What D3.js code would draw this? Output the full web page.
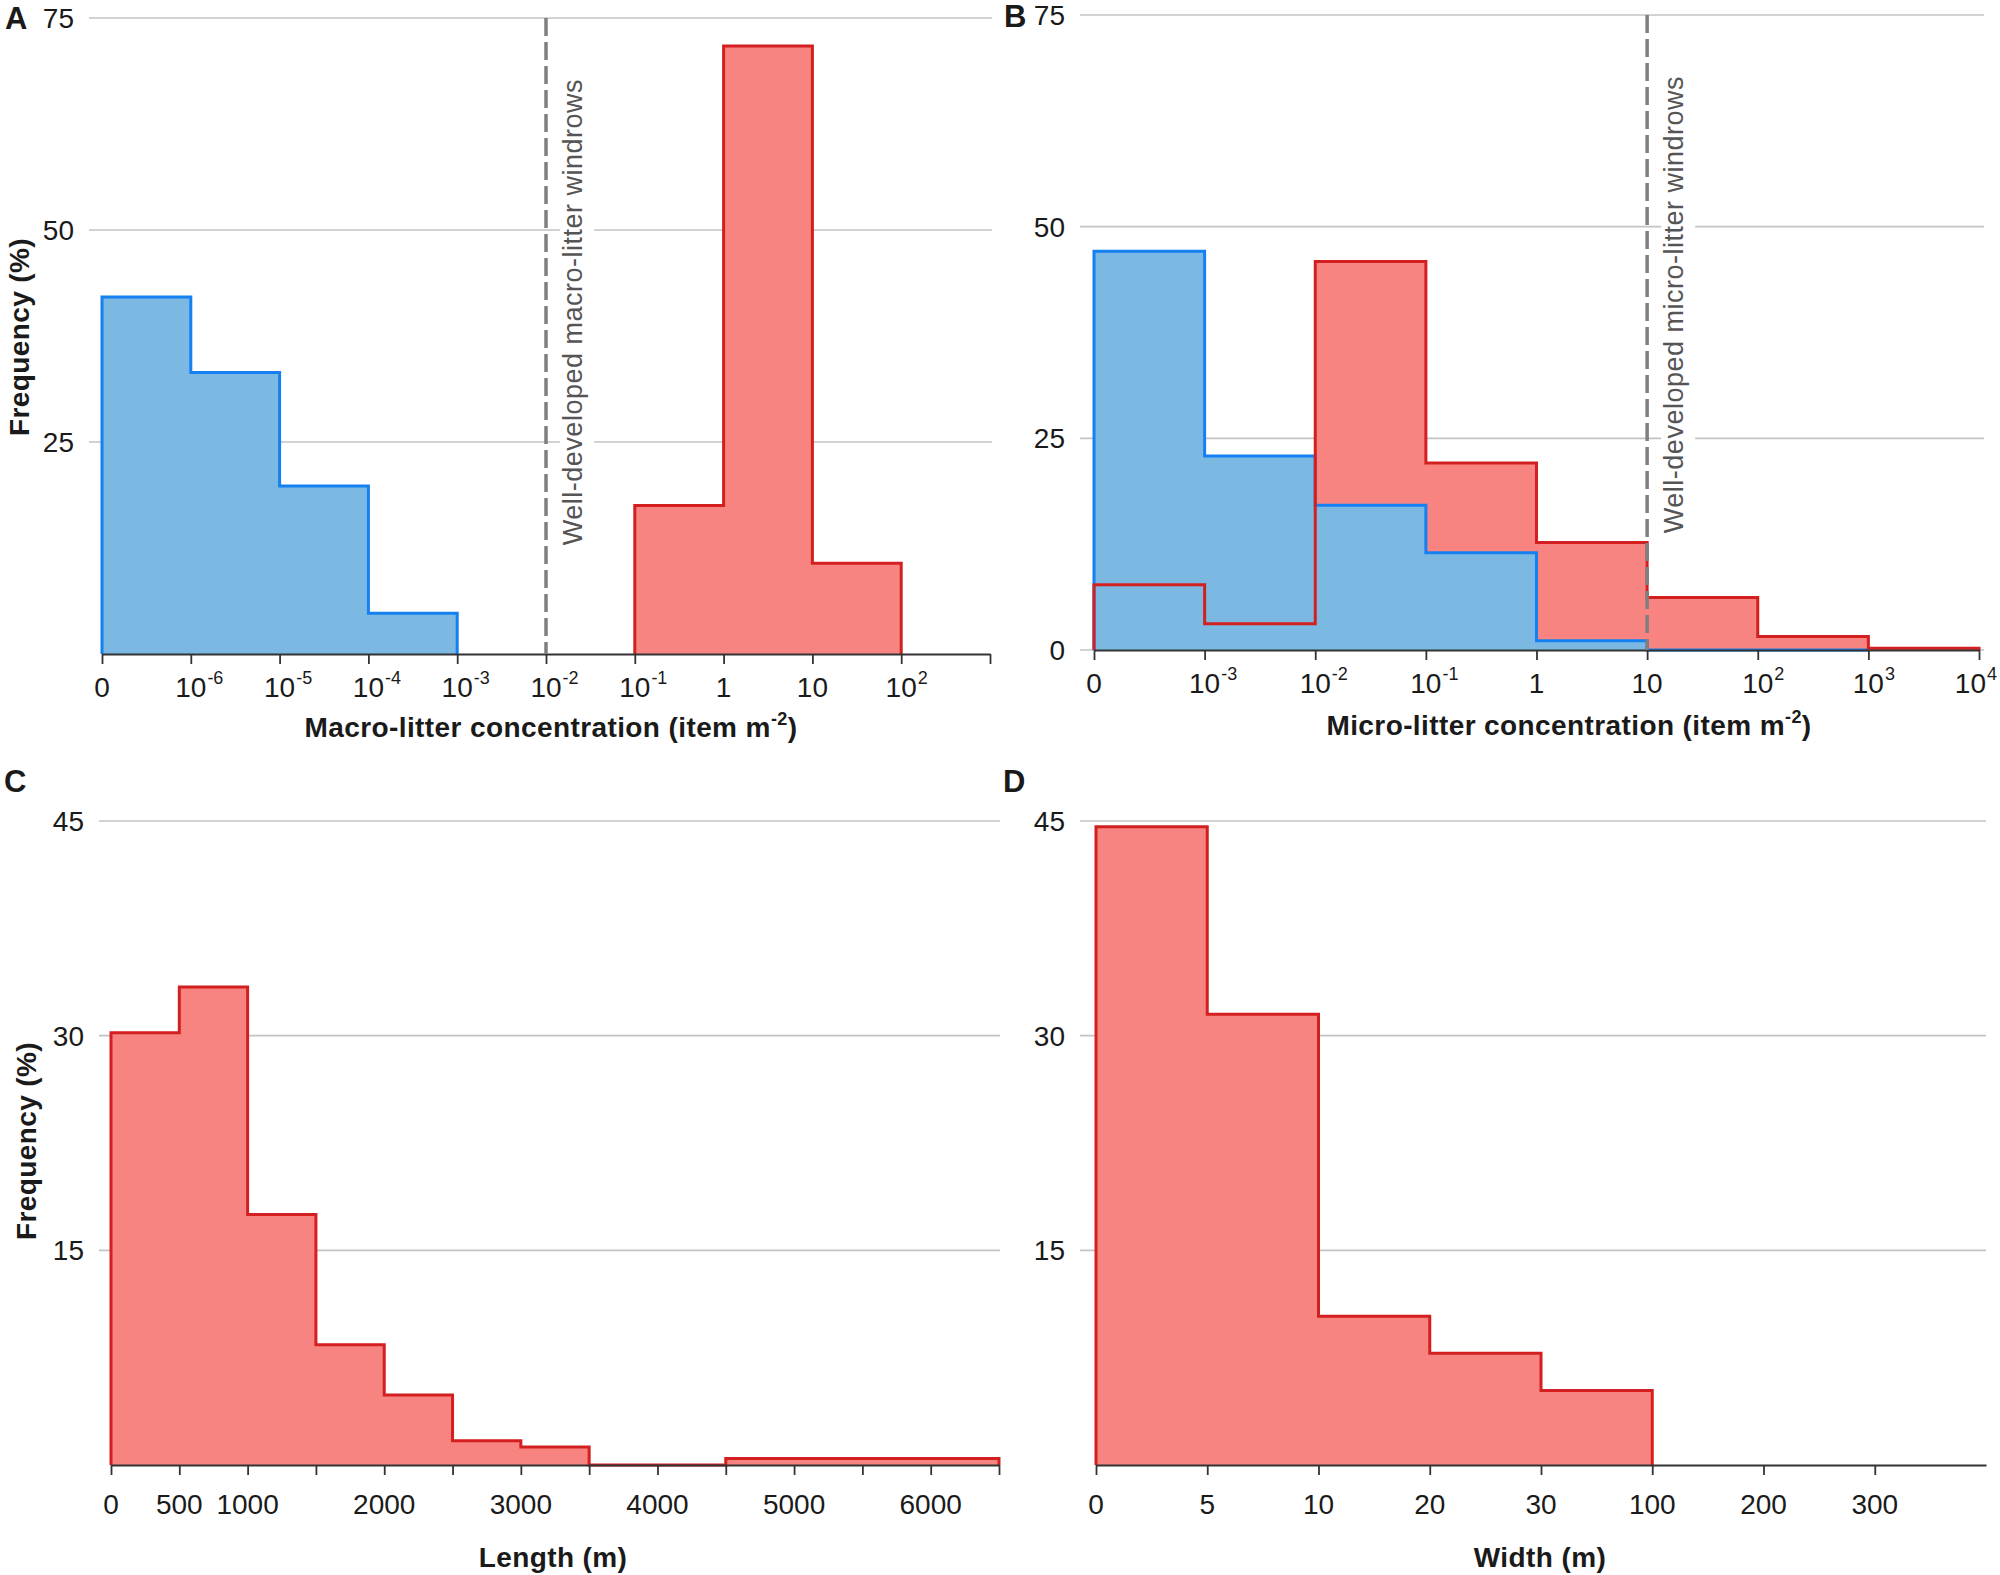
<!DOCTYPE html>
<html>
<head>
<meta charset="utf-8">
<script src="https://cdnjs.cloudflare.com/ajax/libs/d3/7.8.5/d3.min.js"></script>
<style>
  body { margin: 0; background: #fff; }
  text { font-family: "Liberation Sans", Arial, sans-serif; fill: #1a1a1a; }
</style>
</head>
<body>
<div id="chart"></div>
<script>
// ---- data ----
// A: macro-litter concentration (ordinal bins)
var macroTicks = ["0", "10^-6", "10^-5", "10^-4", "10^-3", "10^-2", "10^-1", "1", "10", "10^2", ""];
var macroBlue = [42.1, 33.2, 19.8, 4.8];
var macroBlueFrom = "0";
var macroRed = [17.5, 71.7, 10.7];
var macroRedFrom = "10^-1";
var macroWindrow = "10^-2";

// B: micro-litter concentration
var microTicks = ["0", "10^-3", "10^-2", "10^-1", "1", "10", "10^2", "10^3", "10^4"];
var microBlue = [47.1, 22.9, 17.1, 11.5, 1.1, 0, 0];
var microRed = [7.7, 3.1, 45.9, 22.1, 12.7, 6.2, 1.6, 0.2];
var microWindrow = "10";

// C: windrow length (m)
var lengthEdges = [0, 500, 1000, 1500, 2000, 2500, 3000, 3500, 4000, 4500, 5000, 5500, 6000, 6500];
var lengthRed = [30.2, 33.4, 17.5, 8.4, 4.9, 1.7, 1.25, 0, 0, 0.45, 0.45, 0.45, 0.45];
var lengthLabels = [0, 500, 1000, 2000, 3000, 4000, 5000, 6000];

// D: windrow width (m)
var widthTicks = ["0", "5", "10", "20", "30", "100", "200", "300"];
var widthRed = [44.6, 31.5, 10.4, 7.8, 5.2];

var blueFill = "#7bb8e2", blueLine = "#1480f2";
var redFill = "#f88482", redLine = "#d31f1f";

var svg = d3.select("#chart").append("svg").attr("width", 2000).attr("height", 1575);

// bins -> step points
function binPoints(edges, values) {
  var pts = [];
  values.forEach(function(v, i) { pts.push([edges[i], v]); });
  pts.push([edges[values.length], values[values.length - 1]]);
  return pts;
}

function drawPanel(o) {
  var g = svg.append("g");
  var x = d3.scaleLinear().domain(o.xDomain).range(o.xRange);
  var y = d3.scaleLinear().domain([0, o.yMax]).range([o.yBase, o.yTop]);

  // grid
  g.selectAll(".grid").data(o.yTicks).enter().append("line")
    .attr("x1", o.gridX0).attr("x2", o.gridX1)
    .attr("y1", function(d) { return y(d); }).attr("y2", function(d) { return y(d); })
    .attr("stroke", "#c3c3c3").attr("stroke-width", 1.6);
  g.selectAll(".ylab").data(o.yTicks).enter().append("text")
    .attr("x", o.gridX0 - 15).attr("y", function(d) { return y(d) + 10; })
    .attr("text-anchor", "end").attr("font-size", 28)
    .text(function(d) { return d; });

  var area = d3.area().curve(d3.curveStepAfter)
    .x(function(d) { return x(d[0]); }).y0(y(0)).y1(function(d) { return y(d[1]); });
  var line = d3.line().curve(d3.curveStepAfter)
    .x(function(d) { return x(d[0]); }).y(function(d) { return y(d[1]); });

  // fills first, outlines after (reverse order so red outline lands on top)
  o.series.forEach(function(s) {
    g.append("path").attr("d", area(binPoints(s.edges, s.values))).attr("fill", s.fill);
  });
  o.series.slice().reverse().forEach(function(s) {
    var pts = binPoints(s.edges, s.values);
    pts.unshift([s.edges[0], 0]);
    pts.push([s.edges[s.values.length], 0]);
    g.append("path").attr("d", line(pts)).attr("fill", "none")
      .attr("stroke", s.stroke).attr("stroke-width", 3).attr("stroke-linejoin", "miter");
  });

  // x axis
  var ax = g.append("g").attr("transform", "translate(0," + o.yBase + ")")
    .call(d3.axisBottom(x).tickValues(o.tickValues).tickSize(10).tickSizeOuter(0).tickFormat(""));
  ax.select(".domain").attr("stroke", "#333").attr("stroke-width", 2);
  ax.selectAll(".tick line").attr("stroke", "#333").attr("stroke-width", 1.8);

  o.labels.forEach(function(l) {
    var parts = String(l.text).split("^");
    var cx = x(l.at);
    var t = g.append("text").attr("x", cx).attr("y", o.yBase + o.labelDy)
      .attr("text-anchor", "middle").attr("font-size", 28)
      .text(parts[0]);
    if (parts.length > 1) {
      var w = t.node().getComputedTextLength();
      var s = g.append("text").attr("y", o.yBase + o.labelDy - 13)
        .attr("font-size", 18).text(parts[1]);
      var sw = s.node().getComputedTextLength();
      // keep the last label inside the page
      var shift = Math.min(0, 1997 - (cx + w / 2 + 1 + sw));
      t.attr("x", cx + shift);
      s.attr("x", cx + shift + w / 2 + 1);
    }
  });

  // axis title
  var tt = g.append("text").attr("x", o.titleX).attr("y", o.titleY)
    .attr("text-anchor", "middle").attr("font-size", 28).attr("font-weight", "bold")
    .attr("letter-spacing", 0.4);
  var tp = o.title.split("^");
  tt.append("tspan").text(tp[0]);
  if (tp.length > 1) {
    tt.append("tspan").attr("dy", -12).attr("font-size", 18).text(tp[1]);
    tt.append("tspan").attr("dy", 12).text(")");
  }

  if (o.yTitle) {
    g.append("text").attr("transform", "translate(" + o.yTitleX + "," + o.yTitleY + ") rotate(-90)")
      .attr("text-anchor", "middle").attr("font-size", 28).attr("font-weight", "bold")
      .attr("letter-spacing", 0.4).text(o.yTitle);
  }

  g.append("text").attr("x", o.letterX).attr("y", o.letterY)
    .attr("font-size", 31).attr("font-weight", "bold").text(o.letter);

  if (o.windrowAt !== undefined) {
    var lx = x(o.windrowAt);
    g.append("line").attr("x1", lx).attr("x2", lx).attr("y1", y(o.yMax)).attr("y2", y(0))
      .attr("stroke", "#7f7f7f").attr("stroke-width", 3.5).attr("stroke-dasharray", "18,6");
    var wt = g.append("text")
      .attr("transform", "translate(" + (lx + 36) + "," + (o.yTop + 61) + ") rotate(-90)")
      .attr("text-anchor", "end").attr("font-size", 27).attr("letter-spacing", 0.5)
      .style("fill", "#555").text(o.windrowText);
    var len = wt.node().getBBox().width;
    g.insert("rect", function() { return wt.node(); })
      .attr("x", lx + 14).attr("y", o.yTop + 57)
      .attr("width", 34).attr("height", len + 8).attr("fill", "#fff");
  }
}

function idx(list, v) { return list.indexOf(v); }
function ordEdges(list, from, n) {
  var s = idx(list, from);
  return d3.range(s, s + n + 1);
}

drawPanel({
  letter: "A", letterX: 5, letterY: 29,
  xDomain: [0, macroTicks.length - 1], xRange: [102, 990],
  yMax: 75, yBase: 654, yTop: 18, yTicks: [25, 50, 75], gridX0: 89, gridX1: 992,
  tickValues: d3.range(macroTicks.length),
  labels: macroTicks.map(function(t, i) { return { at: i, text: t }; }),
  labelDy: 43,
  series: [
    { edges: ordEdges(macroTicks, macroRedFrom, macroRed.length), values: macroRed, fill: redFill, stroke: redLine },
    { edges: ordEdges(macroTicks, macroBlueFrom, macroBlue.length), values: macroBlue, fill: blueFill, stroke: blueLine }
  ],
  title: "Macro-litter concentration (item m^-2", titleX: 551, titleY: 737,
  yTitle: "Frequency (%)", yTitleX: 29, yTitleY: 337,
  windrowAt: idx(macroTicks, macroWindrow), windrowText: "Well-developed macro-litter windrows"
});

drawPanel({
  letter: "B", letterX: 1004, letterY: 27,
  xDomain: [0, microTicks.length - 1], xRange: [1094, 1979],
  yMax: 75, yBase: 650, yTop: 15, yTicks: [0, 25, 50, 75], gridX0: 1080, gridX1: 1984,
  tickValues: d3.range(microTicks.length),
  labels: microTicks.map(function(t, i) { return { at: i, text: t }; }),
  labelDy: 43,
  series: [
    { edges: ordEdges(microTicks, "0", microRed.length), values: microRed, fill: redFill, stroke: redLine },
    { edges: ordEdges(microTicks, "0", microBlue.length), values: microBlue, fill: blueFill, stroke: blueLine }
  ],
  title: "Micro-litter concentration (item m^-2", titleX: 1569, titleY: 735,
  windrowAt: idx(microTicks, microWindrow), windrowText: "Well-developed micro-litter windrows"
});

drawPanel({
  letter: "C", letterX: 4, letterY: 792,
  xDomain: [0, 6500], xRange: [111, 999],
  yMax: 45, yBase: 1465, yTop: 821, yTicks: [15, 30, 45], gridX0: 99, gridX1: 1000,
  tickValues: lengthEdges,
  labels: lengthLabels.map(function(v) { return { at: v, text: v }; }),
  labelDy: 49,
  series: [
    { edges: lengthEdges, values: lengthRed, fill: redFill, stroke: redLine }
  ],
  title: "Length (m)", titleX: 553, titleY: 1567,
  yTitle: "Frequency (%)", yTitleX: 36, yTitleY: 1141
});

drawPanel({
  letter: "D", letterX: 1003, letterY: 792,
  xDomain: [0, widthTicks.length], xRange: [1096, 1986],
  yMax: 45, yBase: 1465, yTop: 821, yTicks: [15, 30, 45], gridX0: 1080, gridX1: 1986,
  tickValues: d3.range(widthTicks.length),
  labels: widthTicks.map(function(t, i) { return { at: i, text: t }; }),
  labelDy: 49,
  series: [
    { edges: ordEdges(widthTicks, "0", widthRed.length), values: widthRed, fill: redFill, stroke: redLine }
  ],
  title: "Width (m)", titleX: 1540, titleY: 1567
});
</script>
</body>
</html>
